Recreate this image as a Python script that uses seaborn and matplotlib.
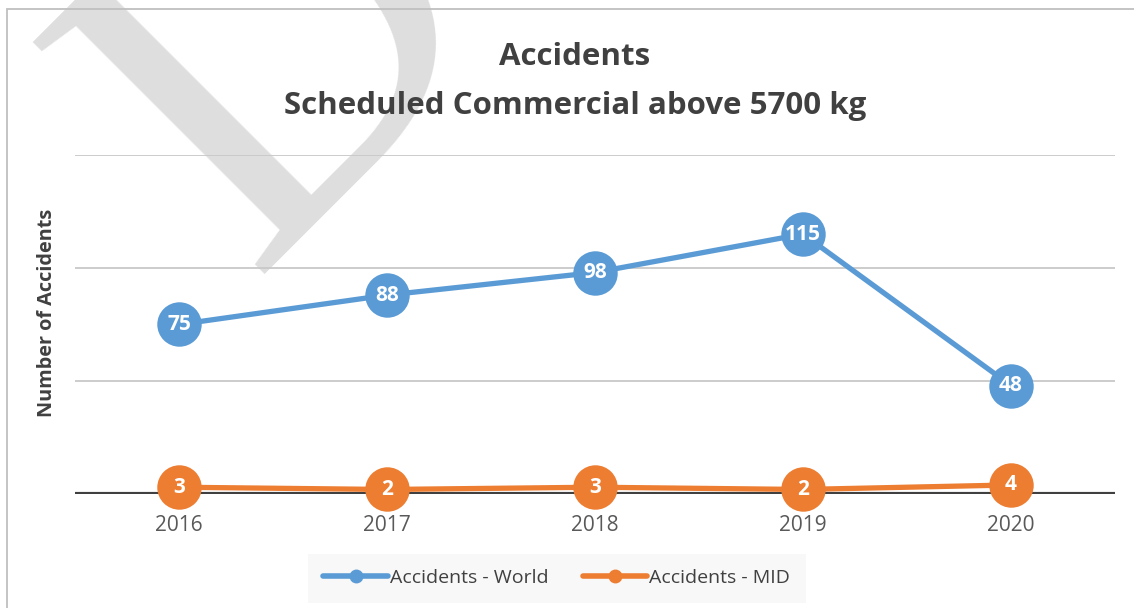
import pandas as pd
import numpy as np
import matplotlib.pyplot as plt
import seaborn as sns
from matplotlib.lines import Line2D
from matplotlib.patches import Rectangle

# datos del grafico
years = ['2016', '2017', '2018', '2019', '2020']
world = [75, 88, 98, 115, 48]
mid = [3, 2, 3, 2, 4]
series_names = ['Accidents - World', 'Accidents - MID']
colors = {'Accidents - World': '#5B9BD5', 'Accidents - MID': '#ED7D31'}

df = pd.DataFrame({
    'Year': years * 2,
    'Accidents': world + mid,
    'Series': [series_names[0]] * len(years) + [series_names[1]] * len(years),
})

sns.set_style('white')
plt.rcParams['font.family'] = ['Open Sans', 'DejaVu Sans']

fig = plt.figure(figsize=(11.34, 6.08), dpi=100)
ax = fig.add_axes([0.0661, 0.1875, 0.9171, 0.5576])
ax.set_facecolor('none')

# marca de agua "D" de fondo
fig.text(0.258, 0.90, 'D', fontsize=360, family='Liberation Serif',
         rotation=45, rotation_mode='anchor', color='#DEDEDE',
         ha='center', va='center', zorder=-1)

# borde del area del grafico
fig.add_artist(Rectangle((7 / 1134, -0.1), 1.2, 1 - 9 / 608 + 0.1,
                         transform=fig.transFigure, fill=False,
                         edgecolor='#BFBFBF', lw=1.3, clip_on=False))

sns.lineplot(data=df, x='Year', y='Accidents', hue='Series', palette=colors,
             marker='o', markersize=32, markeredgewidth=0, linewidth=3.8,
             legend=False, ax=ax, sort=False, clip_on=False)

# etiquetas de datos
for i, y in enumerate(world):
    ax.text(i, y, str(y), color='white', fontsize=15, fontweight='bold',
            ha='center', va='center', zorder=5)
for i, y in enumerate(mid):
    ax.text(i, y, str(y), color='white', fontsize=15, fontweight='bold',
            ha='center', va='center', zorder=5)

ax.set_xlim(-0.5, 4.5)
ax.set_ylim(0, 150)
ax.set_yticks([0, 50, 100, 150])
ax.set_yticklabels([])
ax.tick_params(axis='y', length=0)
ax.grid(axis='y', color='#C8C8C8', lw=1.3)
ax.set_axisbelow(True)
ax.axhline(0, color='#404040', lw=3, zorder=1.5)
for s in ax.spines.values():
    s.set_visible(False)

ax.tick_params(axis='x', length=0, pad=15, labelsize=15, labelcolor='#595959')
ax.set_xlabel('')
ax.set_ylabel('Number of Accidents', fontsize=14.3, fontweight='bold',
              color='#404040')
ax.yaxis.label.set_verticalalignment('center')
ax.yaxis.set_label_coords(-0.0269, 0.534)

fig.text(0.507, 0.906, 'Accidents', fontsize=22.5, fontweight='bold',
         color='#404040', ha='center', va='center')
fig.text(0.507, 0.826, 'Scheduled Commercial above 5700 kg', fontsize=22.5,
         fontweight='bold', color='#404040', ha='center', va='center')

# leyenda
handles = [Line2D([0], [0], color=colors[n], lw=4, marker='o', markersize=9)
           for n in series_names]
leg = fig.legend(handles, series_names, loc='center', bbox_to_anchor=(0.491, 0.049),
                 ncol=2, frameon=True, fontsize=14, handlelength=3.3,
                 handletextpad=0.1, columnspacing=1.8, borderpad=0.8)
leg.get_frame().set_facecolor('#F7F7F7')
leg.get_frame().set_edgecolor('none')
leg.get_frame().set_boxstyle('square', pad=0)
for t in leg.get_texts():
    t.set_color('#404040')

plt.savefig('out.png', dpi=100)
